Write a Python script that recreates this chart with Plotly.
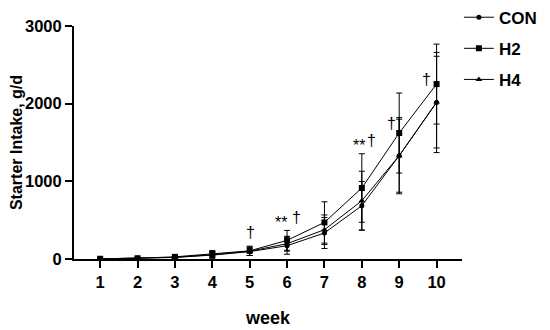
import plotly.graph_objects as go

weeks = [1, 2, 3, 4, 5, 6, 7, 8, 9, 10]
con = [2, 8, 20, 50, 95, 171, 335, 686, 1330, 2015]
h2 = [3, 10, 28, 65, 105, 240, 471, 914, 1622, 2252]
h4 = [2, 9, 22, 55, 100, 197, 377, 750, 1330, 2020]
con_sd = [5, 10, 15, 40, 50, 110, 200, 313, 490, 645]
h2_sd = [5, 12, 18, 45, 60, 128, 266, 441, 515, 515]
h4_sd = [5, 10, 15, 40, 55, 95, 190, 380, 470, 590]
series_names = ["CON", "H2", "H4"]
symbols = ["circle", "square", "triangle-up"]

ann_x = [5.02, 5.85, 6.25, 7.92, 8.26, 8.8, 9.73]
ann_y = [340, 470, 530, 1460, 1530, 1740, 2310]
ann_text = ["†", "**", "†", "**", "†", "†", "†"]

FONT = "Liberation Sans, Arial, sans-serif"

fig = go.Figure()
for name, ys, sd, sym in zip(series_names, [con, h2, h4], [con_sd, h2_sd, h4_sd], symbols):
    fig.add_trace(go.Scatter(
        x=weeks, y=ys, name=name, mode="lines+markers", legendgroup=name,
        line=dict(color="black", width=1),
        marker=dict(symbol=sym, size=6 if sym != "circle" else 5, color="black"),
        error_y=dict(type="data", array=sd, visible=True, color="black", thickness=1, width=3),
    ))

for x, y, t in zip(ann_x, ann_y, ann_text):
    fig.add_annotation(x=x, y=y, text=t, showarrow=False,
                       font=dict(family=FONT, size=16, color="#000000"))

# page has an 8px body margin, so the figure is 542x322 placed at (8, 8)
fig.update_layout(
    width=542, height=322,
    margin=dict(l=66, r=88, t=18, b=71, autoexpand=False),
    paper_bgcolor="white", plot_bgcolor="white",
    font=dict(family=FONT, color="black"),
    showlegend=True,
    legend=dict(x=0.992, y=1.113, xanchor="left", yanchor="top",
                font=dict(family=FONT, size=17, weight="bold", color="black"),
                tracegroupgap=6, bgcolor="rgba(0,0,0,0)"),
    xaxis=dict(range=[0.3, 10.68], tickmode="array", tickvals=weeks, automargin=False,
               ticks="outside", ticklen=7, tickwidth=2, tickcolor="black",
               showline=True, linewidth=2, linecolor="black", showgrid=False, zeroline=False,
               tickfont=dict(family=FONT, size=16.5, weight="bold"),
               title=dict(text="week", font=dict(family=FONT, size=18, weight="bold"), standoff=22)),
    yaxis=dict(range=[0, 3000], tickvals=[0, 1000, 2000, 3000], automargin=False,
               ticks="outside", ticklen=7, tickwidth=2, tickcolor="black",
               showline=True, linewidth=2, linecolor="black", showgrid=False, zeroline=False,
               tickfont=dict(family=FONT, size=16.5, weight="bold"),
               title=dict(text="Starter Intake, g/d", font=dict(family=FONT, size=16, weight="bold"), standoff=2)),
)

fig.write_html("out.html")
